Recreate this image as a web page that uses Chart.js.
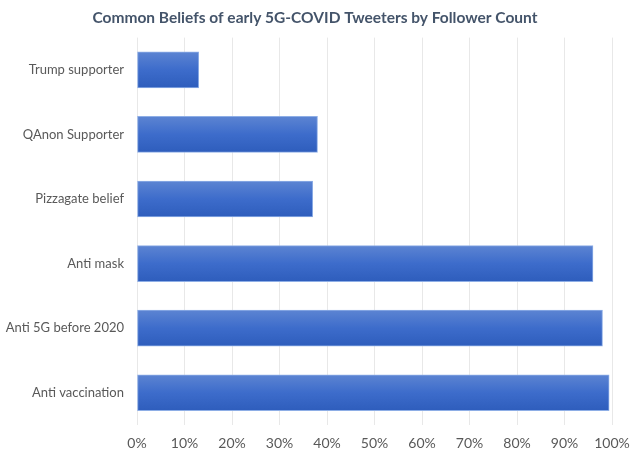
<!DOCTYPE html>
<html>
<head>
<meta charset="utf-8">
<script src="https://cdn.jsdelivr.net/npm/chart.js@4/dist/chart.umd.min.js"></script>
<style>
  html, body { margin: 0; padding: 0; background: #ffffff; }
  #wrap { width: 630px; height: 453px; }
</style>
</head>
<body>
<div id="wrap"><canvas id="belief-chart"></canvas></div>
<script>
const categories = [
  "Trump supporter",
  "QAnon Supporter",
  "Pizzagate belief",
  "Anti mask",
  "Anti 5G before 2020",
  "Anti vaccination"
];
const shares = [13, 38, 37, 96, 98, 99.4];
const tickValues = [0, 10, 20, 30, 40, 50, 60, 70, 80, 90, 100];

const BAR_H = 36;

function barGradient(c) {
  const chart = c.chart;
  if (!chart.chartArea || !chart.scales.y) return "#3f6fcb";
  const yc = chart.scales.y.getPixelForValue(c.dataIndex);
  const g = chart.ctx.createLinearGradient(0, yc - BAR_H / 2, 0, yc + BAR_H / 2);
  g.addColorStop(0, "#5c84d2");
  g.addColorStop(0.5, "#3d6ccb");
  g.addColorStop(1, "#2e5dbc");
  return g;
}

const ctx = document.getElementById("belief-chart");

new Chart(ctx, {
  type: "bar",
  data: {
    labels: categories,
    datasets: [
      {
        label: "Share",
        data: shares,
        backgroundColor: barGradient,
        borderColor: "#8eaee6",
        borderWidth: 1,
        borderSkipped: false,
        barThickness: BAR_H
      }
    ]
  },
  options: {
    indexAxis: "y",
    responsive: true,
    maintainAspectRatio: false,
    animation: false,
    layout: {
      padding: { left: 0, right: 0, top: 0, bottom: 1 }
    },
    plugins: {
      legend: { display: false },
      tooltip: { enabled: false },
      title: {
        display: true,
        text: "Common Beliefs of early 5G-COVID Tweeters by Follower Count",
        color: "#44546a",
        font: { family: "Lato", size: 15.5, weight: "bold" },
        padding: { top: 9, bottom: 10 }
      }
    },
    scales: {
      x: {
        min: 0,
        max: 100,
        afterBuildTicks: function (axis) {
          axis.ticks = tickValues.map(function (v) { return { value: v }; });
        },
        afterFit: function (axis) {
          axis.height = 27;
          axis.paddingRight = 18;
        },
        ticks: {
          color: "#595959",
          font: { family: "Lato", size: 14 },
          padding: 10,
          maxRotation: 0,
          callback: function (v) { return v + "%"; }
        },
        grid: { color: "#e8e8e8", drawTicks: false },
        border: { display: false }
      },
      y: {
        afterFit: function (axis) { axis.width = 137; },
        ticks: {
          color: "#595959",
          font: { family: "Lato", size: 13 },
          padding: 13
        },
        grid: { display: false, drawTicks: false },
        border: { display: false }
      }
    }
  }
});
</script>
</body>
</html>
